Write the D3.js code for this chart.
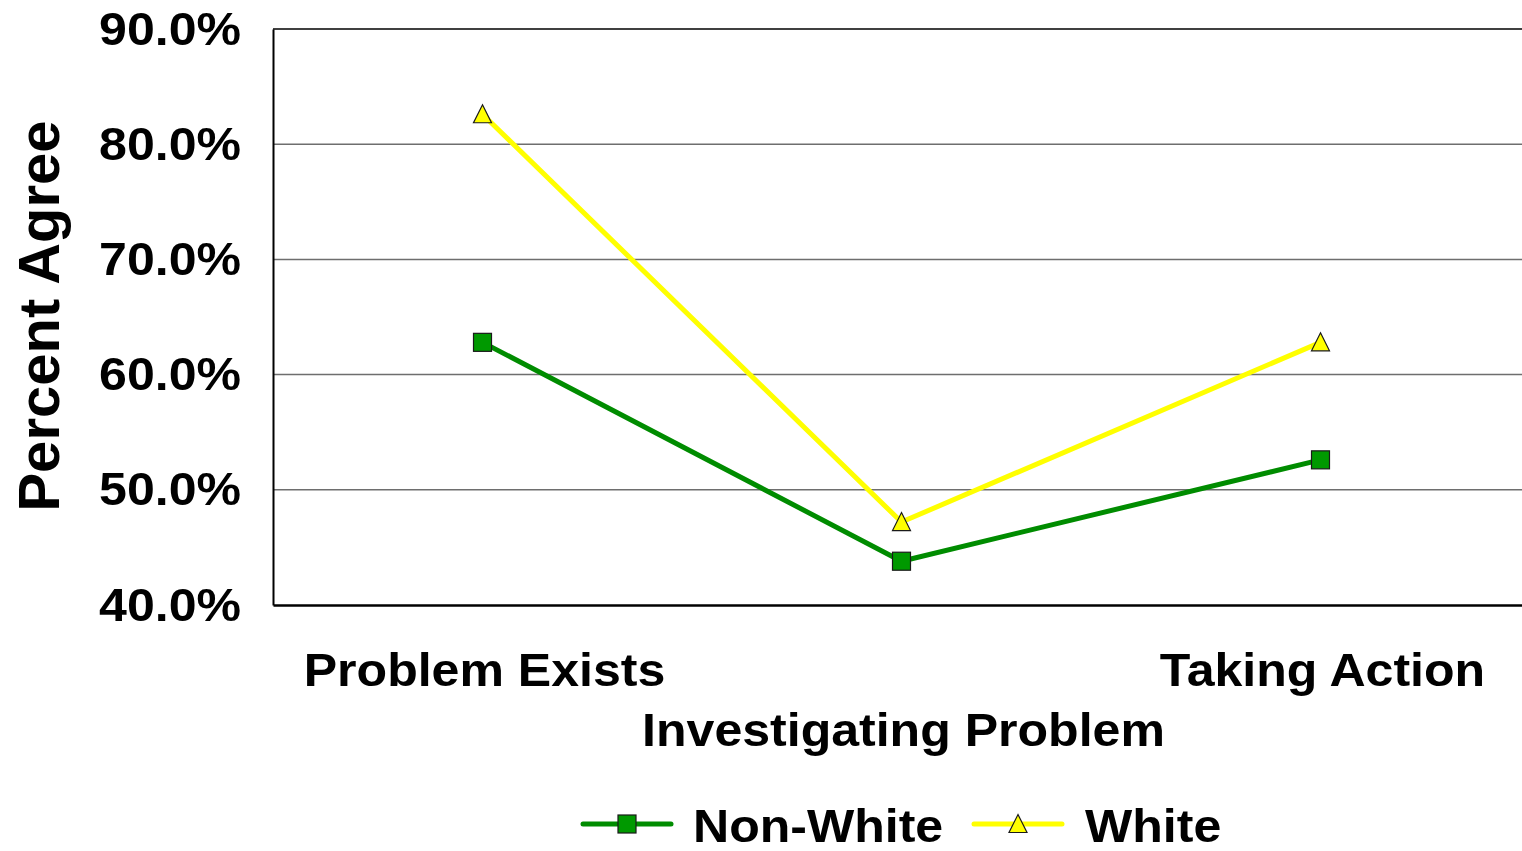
<!DOCTYPE html>
<html>
<head>
<meta charset="utf-8">
<script src="https://cdn.jsdelivr.net/npm/d3@7"></script>
<style>
  html, body { margin: 0; padding: 0; background: #fff; overflow: hidden; }
  svg { display: block; }
  text { font-family: "Liberation Sans", Arial, sans-serif; font-weight: bold; fill: #000; }
</style>
</head>
<body>
<svg id="chart" width="1522" height="851"></svg>
<script>
// Survey stages and share of respondents agreeing (%)
const categories = ["Problem Exists", "Investigating Problem", "Taking Action"];
const nonWhite = [62.8, 43.8, 52.6];
const white = [82.6, 47.2, 62.8];
const yTicks = [40, 50, 60, 70, 80, 90];

const series = [
  { name: "Non-White", values: nonWhite, stroke: "#008c00", fill: "#009900", marker: "square" },
  { name: "White", values: white, stroke: "#ffff00", fill: "#ffff00", marker: "triangle" }
];

const svg = d3.select("#chart");
const plot = { left: 273, top: 29, right: 1530, bottom: 605 };
const stretch = 1.065;

const x = d3.scalePoint().domain(categories).range([plot.left, plot.right]).padding(0.5);
const y = d3.scaleLinear().domain([40, 90]).range([plot.bottom, plot.top]);

// Horizontal gridlines
svg.append("g").selectAll("line")
  .data(yTicks.filter(t => t > 40))
  .join("line")
  .attr("x1", plot.left).attr("x2", plot.right)
  .attr("y1", d => y(d)).attr("y2", d => y(d))
  .attr("stroke", d => d === 90 ? "#000" : "#6e6e6e")
  .attr("stroke-width", d => d === 90 ? 1.5 : 1.5);

// Y axis
const yAxis = d3.axisLeft(y).tickValues(yTicks).tickSize(0).tickFormat(d => d.toFixed(1) + "%");
const yg = svg.append("g").attr("transform", `translate(${plot.left},0)`).call(yAxis);
yg.select(".domain").attr("stroke", "#000").attr("stroke-width", 2);
yg.selectAll(".tick text").remove();
yg.selectAll(".tick").each(function(d) {
  d3.select(this).append("g")
    .attr("transform", `translate(-32,15) scale(${stretch},1)`)
    .append("text")
    .attr("text-anchor", "end")
    .attr("font-size", 47)
    .text(d.toFixed(1) + "%");
});

// X axis line
const xAxis = d3.axisBottom(x).tickSize(0).tickFormat("");
const xg = svg.append("g").attr("transform", `translate(0,${plot.bottom})`).call(xAxis);
xg.select(".domain").attr("stroke", "#000").attr("stroke-width", 2.5);

// Category labels, staggered on two rows
categories.forEach((c, i) => {
  const row = i % 2 === 0 ? 686 : 746;
  svg.append("g")
    .attr("transform", `translate(${x(c) + 2},${row}) scale(${stretch},1)`)
    .append("text")
    .attr("text-anchor", "middle")
    .attr("font-size", 47)
    .text(c);
});

// Y axis title
svg.append("text")
  .attr("transform", `translate(59,316) rotate(-90)`)
  .attr("text-anchor", "middle")
  .attr("font-size", 58)
  .text("Percent Agree");

// Lines and markers
const line = d3.line().x((d, i) => x(categories[i])).y(d => y(d));
const sq = 18;
const tri = d3.symbol().type(d3.symbolTriangle).size(150);

function drawMarker(g, type, cx, cy, fill) {
  if (type === "square") {
    g.append("rect")
      .attr("x", cx - sq / 2).attr("y", cy - sq / 2)
      .attr("width", sq).attr("height", sq)
      .attr("fill", fill).attr("stroke", "#1a1a1a").attr("stroke-width", 1.2);
  } else {
    g.append("path")
      .attr("d", "M0,-9.5L9,8.5L-9,8.5Z")
      .attr("transform", `translate(${cx},${cy})`)
      .attr("fill", fill).attr("stroke", "#1a1a1a").attr("stroke-width", 1.2);
  }
}

series.forEach(s => {
  svg.append("path")
    .datum(s.values)
    .attr("d", line)
    .attr("fill", "none")
    .attr("stroke", s.stroke)
    .attr("stroke-width", 5)
    .attr("stroke-linejoin", "round");
});
series.forEach(s => {
  const g = svg.append("g");
  s.values.forEach((v, i) => drawMarker(g, s.marker, x(categories[i]), y(v), s.fill));
});

// Legend
const legendItems = [
  { s: series[0], lx: 583, tx: 693 },
  { s: series[1], lx: 974, tx: 1085 }
];
legendItems.forEach(({ s, lx, tx }) => {
  const g = svg.append("g");
  g.append("line")
    .attr("x1", lx).attr("x2", lx + 88)
    .attr("y1", 824).attr("y2", 824)
    .attr("stroke", s.stroke).attr("stroke-width", 5).attr("stroke-linecap", "round");
  drawMarker(g, s.marker, lx + 44, 824, s.fill);
  g.append("g")
    .attr("transform", `translate(${tx},842) scale(${stretch},1)`)
    .append("text")
    .attr("font-size", 47)
    .text(s.name);
});
</script>
</body>
</html>
